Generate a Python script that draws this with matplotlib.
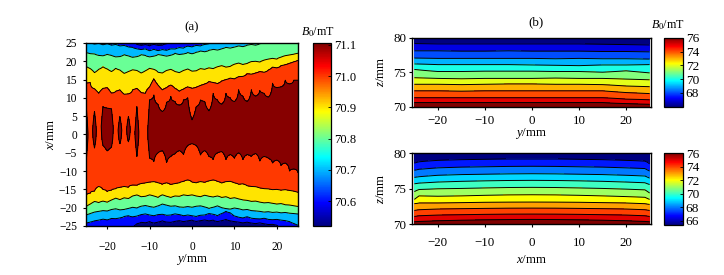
import numpy as np
import matplotlib
matplotlib.use('Agg')
import matplotlib.pyplot as plt
from matplotlib.colors import Normalize, ListedColormap
from matplotlib.cm import ScalarMappable

plt.rcParams['font.family'] = 'Liberation Serif'
plt.rcParams['mathtext.fontset'] = 'custom'
plt.rcParams['mathtext.rm'] = 'Liberation Serif'
plt.rcParams['mathtext.it'] = 'Liberation Serif:italic'
plt.rcParams['font.size'] = 9.3

nan = np.nan

# ---- (a) B0 map in the x-y plane: x positions (mm) where each contour level is crossed,
# read column by column (one column per mm of y). t* = upper side, b* = lower side.
ya = np.arange(-25, 26)
a_levels = [70.6, 70.7, 70.8, 70.9, 71.0, 71.1]

a_t06 = [28, 28, 28, 28, 28, 28, 28, 28, 28, 28, 28,
         25.3, 24.6, 24.3, 24.5, 24.2, 24.6, 24.3, 24.4, 24.8, 25.3,
         28, 28, 28, 28, 28, 28, 28, 28, 28, 28, 28, 28, 28, 28, 28,
         28, 28, 28, 28, 28, 28, 28, 28, 28, 28, 28, 28, 28, 28, 28]
a_t07 = [24.8, 25.0, 24.7, 24.9, 24.5, 24.8, 24.4, 24.6, 24.2, 24.3, 23.9, 23.8, 23.4,
         23.2, 23.4, 22.9, 23.3, 22.9, 23.2, 23.0, 23.4, 23.3, 23.7, 23.6, 24.1, 23.9,
         24.3, 24.2, 24.6, 24.8, 25.2, 25.5, 27, 27, 27, 27, 27, 27, 27,
         27, 27, 27, 27, 27, 27, 27, 27, 27, 27, 27, 27]
a_t08 = [22.4, 22.1, 22.0, 21.6, 21.5, 21.9, 21.6, 21.2, 21.3, 21.8, 21.5, 21.1, 21.3,
         21.8, 21.6, 21.2, 21.4, 21.9, 21.7, 21.4, 21.7, 22.2, 21.9, 22.0, 22.4, 22.1,
         22.5, 22.8, 22.6, 23.0, 23.3, 23.1, 23.4, 23.8, 23.6, 23.9, 24.2, 24.0, 24.4,
         24.6, 24.4, 24.8, 25.0, 25.3, 25.6, 26, 26, 26, 26, 26, 26]
a_t09 = [18.6, 18.0, 16.9, 17.8, 18.5, 17.9, 17.2, 18.1, 17.6, 16.7, 17.2, 17.7, 17.5,
         16.8, 17.4, 18.1, 17.8, 17.0, 16.8, 17.5, 17.8, 17.2, 16.9, 17.5, 17.9, 17.3,
         17.4, 18.0, 17.8, 18.2, 18.0, 18.5, 18.8, 18.4, 18.6, 19.2, 19.5, 19.1, 19.4,
         19.9, 20.0, 19.8, 20.3, 20.6, 20.8, 20.6, 21.1, 21.5, 21.7, 21.9, 22.2]
a_t10 = [14.0, 14.2, 12.5, 11.3, 12.6, 12.8, 11.3, 11.8, 12.2, 11.0, 11.1, 12.2, 12.6,
         11.5, 11.3, 13.0, 15.2, 13.5, 12.2, 12.8, 13.5, 12.6, 11.8, 12.4, 13.0, 12.6,
         12.9, 13.4, 13.8, 14.5, 14.2, 13.9, 14.6, 15.0, 15.4, 15.2, 15.8, 15.9, 16.6,
         16.5, 16.8, 17.2, 17.0, 17.6, 18.4, 18.2, 18.8, 19.1, 19.5, 19.9, 20.3]
a_t11 = [8.6, nan, 6.3, nan, 7.6, 7.2, 7.0, nan, 4.9, nan, 4.9, nan, 7.6,
         nan, nan, 9.5, 10.8, 8.2, 6.3, 8.8, 10.4, 9.0, 8.0, 9.5, 10.0, 4.0,
         7.6, 9.5, 9.0, 6.5, 11.3, 9.5, 8.3, 11.3, 10.0, 9.0, 12.2, 10.5, 9.0,
         12.2, 10.5, 12.0, 11.3, 10.2, 14.0, 12.8, 13.0, 14.9, 13.8, 14.9, 14.9]
a_b11 = [-8.0, nan, -3.7, nan, -3.0, -4.5, -3.5, nan, -2.5, nan, -2.0, nan, -6.0,
         nan, nan, -6.5, -7.4, -5.0, -4.4, -7.7, -6.0, -5.3, -4.4, -5.5, -3.0, -2.5,
         -3.0, -5.6, -4.4, -6.0, -6.9, -5.0, -4.7, -6.9, -5.5, -6.5, -5.0, -6.9, -5.5,
         -6.0, -5.2, -7.3, -6.0, -6.5, -7.8, -7.0, -8.5, -7.8, -10.0, -9.4, -10.5]
a_b10 = [-16.5, -16.0, -15.5, -14.2, -15.0, -15.6, -15.2, -14.8, -14.5, -14.2, -14.4, -13.8, -13.9,
         -13.4, -13.3, -13.0, -12.9, -13.2, -13.6, -13.2, -13.7, -13.4, -13.2, -12.8, -12.4, -13.0,
         -13.2, -12.9, -13.1, -12.7, -12.4, -12.8, -13.3, -12.9, -12.8, -13.2, -13.6, -13.5, -14.0,
         -14.2, -14.3, -14.6, -14.8, -14.9, -15.1, -15.0, -15.2, -15.1, -15.3, -15.5, -15.8]
a_b09 = [-19.7, -19.0, -18.3, -18.6, -18.2, -18.5, -17.9, -17.4, -17.8, -17.3, -17.5, -16.8, -16.5,
         -17.0, -16.9, -16.5, -16.8, -17.2, -16.5, -16.9, -17.2, -16.8, -16.9, -16.5, -16.7, -16.5,
         -16.8, -17.0, -16.6, -16.9, -17.1, -16.8, -17.2, -17.0, -17.5, -17.3, -17.6, -17.9, -18.0,
         -18.3, -18.2, -18.5, -18.7, -18.6, -18.8, -19.0, -18.9, -19.2, -19.3, -19.5, -19.7]
a_b08 = [-22.0, -21.6, -21.2, -21.0, -20.8, -20.9, -20.5, -20.3, -20.6, -20.5, -20.2, -19.9, -20.1,
         -19.6, -19.4, -19.7, -19.9, -19.5, -19.0, -19.3, -19.6, -19.5, -19.8, -19.9, -19.7, -19.9,
         -19.6, -19.5, -19.8, -20.2, -19.9, -19.5, -20.0, -20.3, -20.4, -20.1, -20.3, -20.6, -20.5,
         -20.8, -20.9, -21.0, -21.2, -21.1, -21.3, -21.2, -21.4, -21.3, -21.5, -21.6, -21.7]
a_b07 = [-24.2, -23.9, -23.6, -23.4, -23.1, -23.3, -22.9, -23.0, -22.8, -22.4, -22.2, -22.5, -22.3,
         -21.9, -21.7, -22.0, -22.2, -21.9, -21.8, -22.1, -22.0, -21.7, -21.9, -22.2, -22.0, -22.2,
         -22.4, -22.1, -22.0, -21.6, -21.8, -22.2, -21.6, -21.0, -21.4, -22.3, -22.6, -22.8, -22.5,
         -22.9, -23.0, -23.1, -22.9, -23.2, -23.3, -23.2, -23.4, -23.5, -23.8, -24.3, -24.8]
a_b06 = [-28, -28, -28, -28, -28, -28, -28, -28, -28, -28, -28,
         -25.2, -24.4, -24.0, -24.1, -23.8, -24.2, -23.9, -23.6, -23.9, -24.0, -23.7, -23.5,
         -23.8, -23.6, -23.4, -23.7, -23.5, -23.3, -23.6, -23.4, -23.8, -23.5, -23.2, -23.6,
         -23.8, -23.9, -24.1, -23.9, -24.2, -24.3, -24.1, -24.4, -24.6, -24.5, -24.8, -25.3,
         -28, -28, -28, -28]

# ---- (b) B0 in the y-z plane (top) and x-z plane (bottom): z (mm) where each level is crossed
b_levels = [67, 68, 69, 70, 71, 72, 73, 74, 75, 76]
yb = [-25, -20, -15, -10, -5, 0, 5, 10, 15, 20, 25]
b_top_z = [
    [79.15, 79.10, 79.10, 79.10, 79.10, 79.10, 79.10, 79.10, 79.05, 79.00, 78.95],
    [78.10, 78.10, 78.05, 78.05, 78.10, 78.05, 78.05, 78.05, 78.00, 78.00, 77.95],
    [77.05, 77.00, 77.00, 77.00, 77.00, 77.00, 76.95, 77.00, 76.95, 76.95, 76.90],
    [76.20, 76.10, 76.10, 76.10, 76.10, 76.05, 76.00, 75.95, 76.05, 76.05, 76.10],
    [75.40, 75.10, 75.10, 75.15, 75.15, 75.15, 75.10, 75.10, 75.00, 75.20, 74.90],
    [74.20, 74.10, 74.05, 74.10, 74.10, 74.10, 74.15, 74.10, 74.10, 74.00, 73.90],
    [73.25, 73.25, 73.20, 73.25, 73.30, 73.30, 73.25, 73.25, 73.20, 73.00, 72.90],
    [72.30, 72.30, 72.25, 72.30, 72.30, 72.30, 72.30, 72.30, 72.30, 72.05, 71.90],
    [71.30, 71.30, 71.30, 71.30, 71.30, 71.30, 71.30, 71.30, 71.30, 71.10, 71.00],
    [70.60, 70.60, 70.60, 70.60, 70.60, 70.60, 70.60, 70.60, 70.60, 70.45, 70.35],
]
xb = [-25, -24, -20, -15, -10, -5, 0, 5, 10, 15, 20, 24, 25]
b_bot_z = [
    [78.60, 78.80, 79.00, 79.10, 79.15, 79.20, 79.20, 79.20, 79.15, 79.10, 79.00, 78.90, 78.50],
    [77.60, 77.75, 77.95, 78.05, 78.10, 78.15, 78.17, 78.15, 78.10, 78.05, 77.95, 77.85, 77.50],
    [76.60, 76.70, 76.90, 77.00, 77.05, 77.10, 77.12, 77.10, 77.05, 77.00, 76.90, 76.80, 76.50],
    [75.70, 75.80, 75.95, 76.05, 76.12, 76.17, 76.19, 76.17, 76.12, 76.05, 75.95, 75.85, 75.60],
    [74.60, 74.90, 75.00, 75.05, 75.12, 75.18, 75.20, 75.18, 75.12, 75.05, 74.95, 74.85, 74.40],
    [73.50, 74.00, 73.95, 74.00, 74.08, 74.14, 74.16, 74.14, 74.08, 74.00, 73.90, 73.80, 73.50],
    [72.90, 73.00, 73.00, 73.05, 73.10, 73.12, 73.13, 73.12, 73.10, 73.05, 73.00, 72.90, 72.80],
    [71.95, 72.05, 72.15, 72.20, 72.24, 72.27, 72.28, 72.27, 72.24, 72.20, 72.15, 72.05, 71.95],
    [71.10, 71.20, 71.30, 71.35, 71.40, 71.43, 71.44, 71.43, 71.40, 71.35, 71.30, 71.20, 71.10],
    [70.35, 70.40, 70.50, 70.58, 70.63, 70.67, 70.69, 70.67, 70.63, 70.58, 70.50, 70.40, 70.35],
]


def field_a():
    xf = np.linspace(-25, 25, 251)
    low = [a_b06, a_b07, a_b08, a_b09, a_b10]
    high = [a_t10, a_t09, a_t08, a_t07, a_t06]
    Z = np.empty((len(xf), len(ya)))
    for j in range(len(ya)):
        xp = [-30.0]
        fp = [70.45]
        for lev, arr in zip(a_levels[:5], low):
            xp.append(arr[j]); fp.append(lev)
        if np.isnan(a_b11[j]):
            xp.append(0.5 * (a_b10[j] + a_t10[j])); fp.append(71.06)
        else:
            xp += [a_b11[j], 0.5 * (a_b11[j] + a_t11[j]), a_t11[j]]
            fp += [71.1, 71.14, 71.1]
        for lev, arr in zip(a_levels[4::-1], high):
            xp.append(arr[j]); fp.append(lev)
        xp.append(30.0); fp.append(70.45)
        Z[:, j] = np.interp(xf, xp, fp)
    return xf, Z


def field_b(zcross):
    zf = np.linspace(70, 80, 201)
    zc = np.array(zcross)
    Z = np.empty((len(zf), zc.shape[1]))
    for j in range(zc.shape[1]):
        zp = [69.0] + list(zc[::-1, j]) + [81.0]
        fp = [77.5] + b_levels[::-1] + [65.5]
        Z[:, j] = np.interp(zf, zp, fp)
    return zf, Z


def matlab_jet(n=256):
    t = np.linspace(0, 1, n)
    r = np.clip(np.minimum(4 * t - 1.5, -4 * t + 4.5), 0, 1)
    g = np.clip(np.minimum(4 * t - 0.5, -4 * t + 3.5), 0, 1)
    b = np.clip(np.minimum(4 * t + 0.5, -4 * t + 2.5), 0, 1)
    return ListedColormap(np.column_stack([r, g, b]))


def style_axes(ax, xpad, ypad, size):
    for s in ax.spines.values():
        s.set_linewidth(1.0)
    ax.tick_params(direction='out', length=2.5, width=0.8, labelsize=size)
    ax.tick_params(axis='x', pad=xpad)
    ax.tick_params(axis='y', pad=ypad)


fig = plt.figure(figsize=(7.24, 2.75), dpi=100)
jet = matlab_jet()

# ---------- (a)
norm_a = Normalize(70.52, 71.106)
xf, Za = field_a()
ax = fig.add_axes([0.1188, 0.1782, 0.2928, 0.6655])
cols = [jet(norm_a(70.52))] + [jet(norm_a(l)) for l in a_levels]
ax.contourf(ya, xf, Za, levels=[69.0] + a_levels + [72.0], colors=cols)
ax.contour(ya, xf, Za, levels=a_levels, colors='k', linewidths=0.7)
ax.set_xlim(-25, 25)
ax.set_ylim(-25, 25)
ax.set_xticks([-20, -10, 0, 10, 20])
ax.set_yticks(np.arange(-25, 26, 5))
style_axes(ax, 8.5, 4, 8.3)
ax.set_xlabel(r'$y$/mm', labelpad=-1)
ax.set_ylabel(r'$x$/mm', labelpad=1)
cax = fig.add_axes([0.4323, 0.1782, 0.0249, 0.6655])
cb = fig.colorbar(ScalarMappable(norm=norm_a, cmap=jet), cax=cax)
cb.set_ticks([70.6, 70.7, 70.8, 70.9, 71.0, 71.1])
cb.ax.set_yticklabels(['70.6', '70.7', '70.8', '70.9', '71.0', '71.1'])
cb.ax.tick_params(direction='in', length=2, width=0.6, pad=2, labelsize=9)
cb.outline.set_linewidth(0.9)
fig.text(0.265, 0.902, '(a)', ha='center', va='center')
fig.text(0.439, 0.884, r'$B_{\mathit{0}}$/mT', ha='center', va='center', fontsize=8.7)

# ---------- (b) top
norm_b1 = Normalize(66, 76)
zf, Zt = field_b(b_top_z)
ax = fig.add_axes([0.5691, 0.612, 0.3301, 0.2509])
cols = [jet(norm_b1(66))] + [jet(norm_b1(l)) for l in b_levels]
ax.contourf(yb, zf, Zt, levels=[60] + b_levels + [80], colors=cols)
ax.contour(yb, zf, Zt, levels=b_levels, colors='k', linewidths=0.7)
ax.set_xlim(-25.5, 25.3)
ax.set_ylim(70, 80)
ax.set_xticks([-20, -10, 0, 10, 20])
ax.set_yticks([70, 75, 80])
style_axes(ax, 3.6, 1.5, 9.3)
ax.set_xlabel(r'$y$/mm', labelpad=-1)
ax.set_ylabel(r'$z$/mm', labelpad=5)
cax = fig.add_axes([0.9171, 0.612, 0.0262, 0.2509])
cb = fig.colorbar(ScalarMappable(norm=norm_b1, cmap=jet), cax=cax)
cb.set_ticks([68, 70, 72, 74, 76])
cb.ax.tick_params(direction='in', length=2, width=0.6, pad=2, labelsize=9.6)
cb.outline.set_linewidth(0.9)
fig.text(0.740, 0.92, '(b)', ha='center', va='center')
fig.text(0.9227, 0.909, r'$B_{\mathit{0}}$/mT', ha='center', va='center', fontsize=8.7)

# ---------- (b) bottom
norm_b2 = Normalize(65.4, 76)
zf, Zb = field_b(b_bot_z)
ax = fig.add_axes([0.5691, 0.1844, 0.3301, 0.2582])
cols = [jet(norm_b2(65.4))] + [jet(norm_b2(l)) for l in b_levels]
ax.contourf(xb, zf, Zb, levels=[60] + b_levels + [80], colors=cols)
ax.contour(xb, zf, Zb, levels=b_levels, colors='k', linewidths=0.7)
ax.set_xlim(-25.5, 25.3)
ax.set_ylim(70, 80)
ax.set_xticks([-20, -10, 0, 10, 20])
ax.set_yticks([70, 75, 80])
style_axes(ax, 7, 1.5, 9.3)
ax.set_xlabel(r'$x$/mm', labelpad=3)
ax.set_ylabel(r'$z$/mm', labelpad=5)
cax = fig.add_axes([0.9171, 0.1818, 0.0262, 0.2618])
cb = fig.colorbar(ScalarMappable(norm=norm_b2, cmap=jet), cax=cax)
cb.set_ticks([66, 68, 70, 72, 74, 76])
cb.ax.tick_params(direction='in', length=2, width=0.6, pad=2, labelsize=9.6)
cb.outline.set_linewidth(0.9)

fig.savefig('out.png', dpi=100)
